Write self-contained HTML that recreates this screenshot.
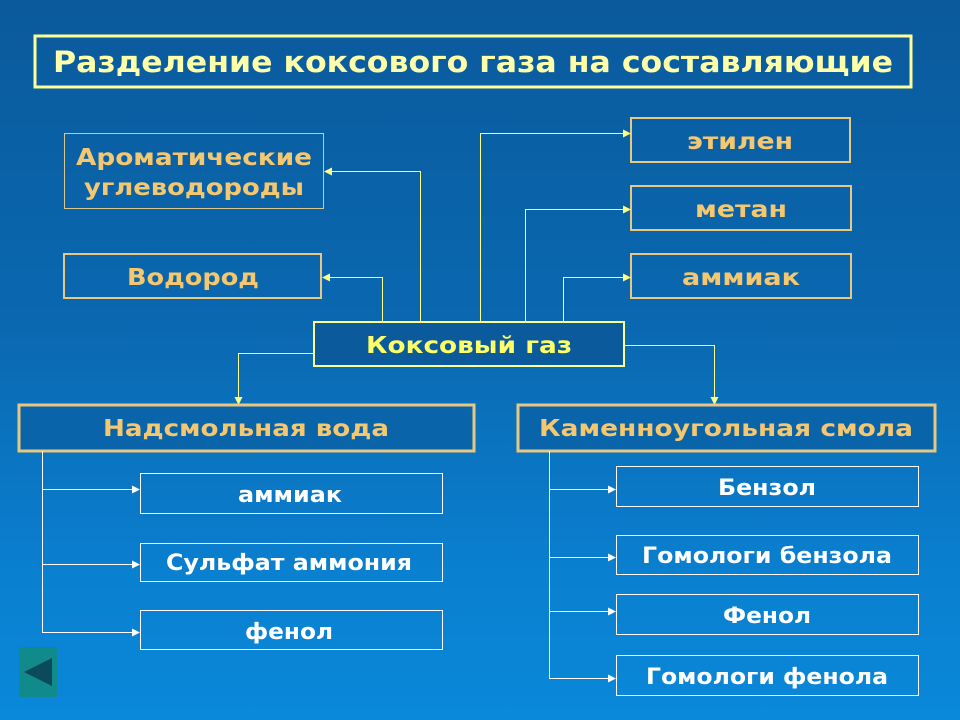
<!DOCTYPE html>
<html><head><meta charset="utf-8"><style>
html,body{margin:0;padding:0;width:960px;height:720px;overflow:hidden}
body{background:linear-gradient(180deg,#0a5a9c 0%,#0a68b0 45%,#0a80d0 80%,#0a88da 100%)}
svg{position:absolute;left:0;top:0}
text{font-family:"DejaVu Sans","Liberation Sans",sans-serif;font-weight:bold;text-anchor:middle}
</style></head><body>
<svg width="960" height="720" viewBox="0 0 960 720">
<defs>
<marker id="ay" markerWidth="8" markerHeight="8" refX="7" refY="4" orient="auto" markerUnits="userSpaceOnUse"><path d="M0,0 L8,4 L0,8 Z" fill="#ffff88"/></marker>
<marker id="aw" markerWidth="8" markerHeight="8" refX="7" refY="4" orient="auto" markerUnits="userSpaceOnUse"><path d="M0,0 L8,4 L0,8 Z" fill="#ffffff"/></marker>
</defs>
<rect x="35" y="36" width="876" height="51" fill="none" stroke="#ffff99" stroke-width="3"/>
<text x="473" y="72" font-size="29" fill="#ffffaa" textLength="840" lengthAdjust="spacingAndGlyphs">Разделение коксового газа на составляющие</text>

<rect x="64.5" y="133.5" width="259" height="75" fill="none" stroke="#d8c890" stroke-width="1"/>
<text x="194" y="165" font-size="23" fill="#f5c870" textLength="236" lengthAdjust="spacingAndGlyphs">Ароматические</text>
<text x="194" y="195" font-size="23" fill="#f5c870" textLength="220" lengthAdjust="spacingAndGlyphs">углеводороды</text>
<rect x="64" y="254" width="257" height="44" fill="none" stroke="#e8c880" stroke-width="2"/>
<text x="193" y="285" font-size="23" fill="#f5c870" textLength="132" lengthAdjust="spacingAndGlyphs">Водород</text>

<rect x="631" y="118" width="219" height="44" fill="none" stroke="#e8c880" stroke-width="2"/>
<text x="740" y="149" font-size="23" fill="#f5c870" textLength="106" lengthAdjust="spacingAndGlyphs">этилен</text>
<rect x="631" y="186" width="220" height="44" fill="none" stroke="#e8c880" stroke-width="2"/>
<text x="741" y="217" font-size="23" fill="#f5c870" textLength="92" lengthAdjust="spacingAndGlyphs">метан</text>
<rect x="631" y="254" width="220" height="44" fill="none" stroke="#e8c880" stroke-width="2"/>
<text x="741" y="285" font-size="23" fill="#f5c870" textLength="118" lengthAdjust="spacingAndGlyphs">аммиак</text>

<rect x="314" y="322" width="310" height="44" fill="#0a5a9c" stroke="#ffff99" stroke-width="2"/>
<text x="469" y="353" font-size="23" fill="#ffff66" textLength="206" lengthAdjust="spacingAndGlyphs">Коксовый газ</text>

<g fill="none" stroke="#ffff88" stroke-width="1">
<path d="M382.5,322 V277.5 H323" marker-end="url(#ay)"/>
<path d="M420.5,322 V171.5 H325" marker-end="url(#ay)"/>
<path d="M480.5,322 V133.5 H630" marker-end="url(#ay)"/>
<path d="M525.5,322 V209.5 H630" marker-end="url(#ay)"/>
<path d="M563.5,322 V277.5 H630" marker-end="url(#ay)"/>
<path d="M314,353.5 H238.5 V404" marker-end="url(#ay)"/>
<path d="M624,345.5 H714.5 V404" marker-end="url(#ay)"/>
</g>

<rect x="19" y="405" width="455" height="46" fill="#0a64aa" stroke="#e8c880" stroke-width="3"/>
<text x="246" y="436" font-size="23" fill="#f5c870" textLength="286" lengthAdjust="spacingAndGlyphs">Надсмольная вода</text>
<rect x="518" y="405" width="417" height="46" fill="#0a64aa" stroke="#e8c880" stroke-width="3"/>
<text x="726" y="436" font-size="23" fill="#f5c870" textLength="374" lengthAdjust="spacingAndGlyphs">Каменноугольная смола</text>

<g fill="none" stroke="#ffffff" stroke-width="1">
<path d="M42.5,451 V632.5 H139" marker-end="url(#aw)"/>
<path d="M42.5,489.5 H139" marker-end="url(#aw)"/>
<path d="M42.5,564.5 H139" marker-end="url(#aw)"/>
<rect x="140.5" y="473.5" width="302" height="40"/>
<rect x="140.5" y="543.5" width="302" height="38"/>
<rect x="140.5" y="610.5" width="302" height="39"/>
</g>
<text x="290" y="502" font-size="22" fill="#fff" textLength="104" lengthAdjust="spacingAndGlyphs">аммиак</text>
<text x="289" y="570" font-size="22" fill="#fff" textLength="246" lengthAdjust="spacingAndGlyphs">Сульфат аммония</text>
<text x="289" y="639" font-size="22" fill="#fff" textLength="88" lengthAdjust="spacingAndGlyphs">фенол</text>

<g fill="none" stroke="#ffffff" stroke-width="1">
<path d="M549.5,451 V678.5 H615" marker-end="url(#aw)"/>
<path d="M549.5,489.5 H615" marker-end="url(#aw)"/>
<path d="M549.5,557.5 H615" marker-end="url(#aw)"/>
<path d="M549.5,611.5 H615" marker-end="url(#aw)"/>
<rect x="616.5" y="466.5" width="302" height="40"/>
<rect x="616.5" y="535.5" width="302" height="39"/>
<rect x="616.5" y="594.5" width="302" height="40"/>
<rect x="616.5" y="655.5" width="302" height="40"/>
</g>
<text x="767" y="495" font-size="22" fill="#fff" textLength="98" lengthAdjust="spacingAndGlyphs">Бензол</text>
<text x="767" y="563" font-size="22" fill="#fff" textLength="250" lengthAdjust="spacingAndGlyphs">Гомологи бензола</text>
<text x="767" y="623" font-size="22" fill="#fff" textLength="88" lengthAdjust="spacingAndGlyphs">Фенол</text>
<text x="767" y="684" font-size="22" fill="#fff" textLength="242" lengthAdjust="spacingAndGlyphs">Гомологи фенола</text>

<rect x="19" y="647" width="38" height="50" fill="#108a8a"/>
<path d="M24,672 L52,658 L52,686 Z" fill="#0a4a5a"/>
</svg>
</body></html>
